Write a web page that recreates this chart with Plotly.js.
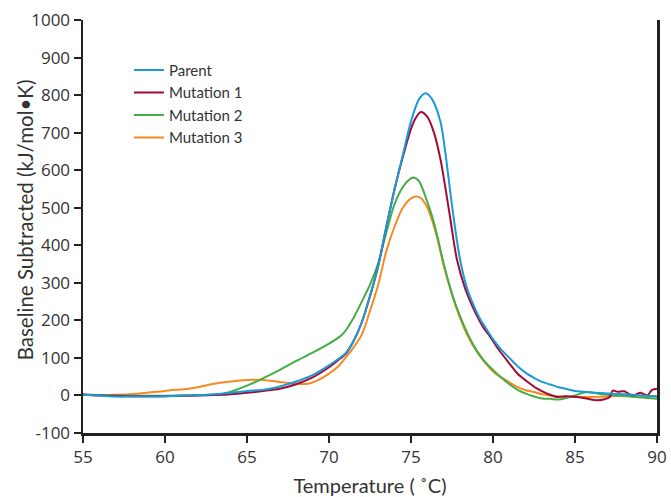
<!DOCTYPE html>
<html>
<head>
<meta charset="utf-8">
<script src="https://cdn.plot.ly/plotly-3.0.1.min.js"></script>
<style>html,body{margin:0;padding:0;background:#fff;}#chart{width:671px;height:497px;}</style>
</head>
<body>
<div id="chart"></div>
<script>
// Temperature (°C) and baseline-subtracted Cp (kJ/mol·K)
var parentT = [55,56,57,58,59,60,61,62,63,64,65,66,67,68,69,70,70.5,71,71.5,72,72.5,73,73.5,74,74.5,75,75.5,75.9,76.3,76.8,77.1,77.4,77.7,78,78.4,78.8,79.2,79.6,80,80.5,81,81.5,82,82.5,83,83.5,84,84.5,85,85.5,86,87,88,89,90];
var parentV = [2,0,-3,-3,-3,-2,-1,1,3,7,12,15,24,37,54,80,95,112,145,195,265,345,450,550,640,730,790,805,788,728,645,540,442,360,288,242,205,177,150,122,100,78,60,47,36,29,22,17,12,10,8,5,3,0,-3];

var mut1T = [55,56,57,58,59,60,61,62,63,64,65,66,67,68,69,70,70.5,71,71.5,72,72.5,73,73.5,74,74.5,75,75.3,75.6,76,76.4,76.8,77.1,77.4,77.8,78.3,78.8,79.4,79.8,80.3,81,81.5,82,82.7,83.3,83.9,84.5,85.1,85.7,86.3,86.8,87.1,87.3,87.6,88,88.5,89,89.4,89.7,90];
var mut1V = [2,0,-1,-2,-2,-2,-1,0,1,3,7,12,18,30,48,75,92,110,145,195,265,345,450,550,635,710,740,755,742,700,628,552,470,362,285,232,182,158,125,85,58,40,18,5,-4,-2,-4,-8,-13,-10,-5,13,10,11,0,7,0,15,18];

var mut2T = [55,57,59,61,63,63.5,64,65,66,67,68,69,70,70.7,71,71.5,72,72.5,73,73.5,74,74.5,75,75.2,75.5,76,76.3,76.6,77,77.5,78,78.5,79,79.5,80,80.5,81,81.5,82,82.5,83,83.5,84,84.5,85,85.7,86.5,87.5,88.7,90];
var mut2V = [2,0,-1,0,2,4,10,26,46,68,92,114,138,158,172,207,250,295,352,435,510,555,578,580,570,515,475,425,350,270,210,160,120,90,68,48,30,15,5,-3,-8,-9,-11,-6,0,9,4,0,-4,-9];

var mut3T = [55,56,57,58,59,60,60.5,61,62,63,64,65,66,67,68,68.7,69.3,70,70.5,71,71.5,72,72.5,73,73.5,74,74.5,75,75.3,75.6,76,76.3,76.6,77,77.5,78,78.5,79,79.5,80,80.5,81,81.5,82,82.5,83,84,85,86,87,88,89,90];
var mut3V = [3,1,2,4,8,12,15,16,22,31,37,41,41,36,31,31,40,58,75,100,128,162,225,295,385,450,500,525,530,526,500,465,420,345,270,205,155,118,88,64,48,35,22,14,9,3,-3,-4,-4,-3,0,0,-2];

var seriesNames = ["Parent","Mutation 1","Mutation 2","Mutation 3"];
var xTickVals = [55,60,65,70,75,80,85,90];
var yTickVals = [-100,0,100,200,300,400,500,600,700,800,900,1000];
var xTitle = "Temperature ( ˚C)";
var yTitle = "Baseline Subtracted (kJ/mol•K)";

var colors = ["#1a9ad6","#a30b34","#44ad44","#f68a22"];
var xs = [parentT, mut1T, mut2T, mut3T];
var ys = [parentV, mut1V, mut2V, mut3V];

var traces = [];
for (var i = 3; i >= 0; i--) {
  traces.push({
    x: xs[i], y: ys[i], type: "scatter", mode: "lines",
    name: seriesNames[i], legendrank: i + 1,
    line: {color: colors[i], width: 2, shape: "spline", smoothing: 0.8},
    hoverinfo: "skip"
  });
}

var font = "Lato, 'Open Sans', sans-serif";
var tickFont = "'Open Sans', Lato, sans-serif";
var layout = {
  width: 671, height: 497,
  margin: {l: 83, r: 14, t: 20, b: 64},
  paper_bgcolor: "#fff", plot_bgcolor: "#fff",
  font: {family: font, color: "#333", size: 17},
  showlegend: true,
  legend: {x: 0.08, y: 0.918, xanchor: "left", yanchor: "top",
           bgcolor: "rgba(0,0,0,0)", borderwidth: 0,
           font: {family: font, size: 15, color: "#333"}, tracegroupgap: 0},
  xaxis: {
    range: [55, 90], tickvals: xTickVals, ticktext: xTickVals.map(String),
    showgrid: false, zeroline: false, showline: true, linecolor: "#222", linewidth: 2.5,
    ticks: "outside", ticklen: 7, tickwidth: 2, tickcolor: "#222", mirror: false,
    tickfont: {family: tickFont, size: 17, color: "#333"},
    title: {text: xTitle, font: {family: font, size: 20, color: "#333"}, standoff: 13}
  },
  yaxis: {
    range: [-100, 1000], tickvals: yTickVals, ticktext: yTickVals.map(String),
    showgrid: false, zeroline: false, showline: true, linecolor: "#222", linewidth: 2.5,
    ticks: "outside", ticklen: 7, tickwidth: 2, tickcolor: "#222", mirror: true,
    tickfont: {family: tickFont, size: 17, color: "#333"}
  },
  annotations: [{
    text: yTitle, textangle: -90, showarrow: false,
    xref: "paper", yref: "paper", x: -0.101, y: 0.515, xanchor: "center", yanchor: "middle",
    font: {family: font, size: 20.5, color: "#333"}
  }]
};

Plotly.newPlot("chart", traces, layout, {staticPlot: true, displayModeBar: false});
</script>
</body>
</html>
